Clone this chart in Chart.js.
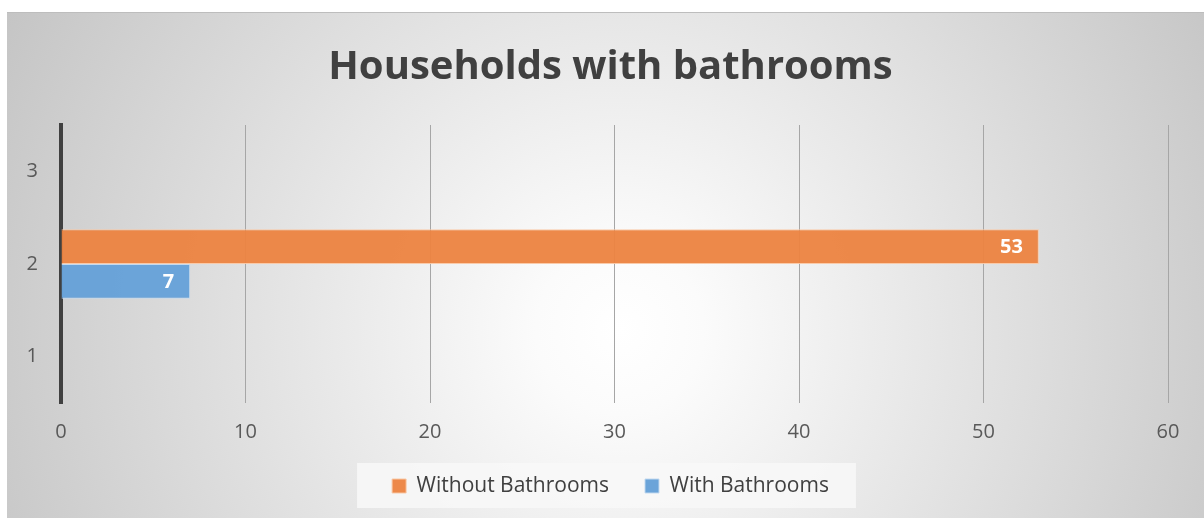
<!DOCTYPE html>
<html>
<head>
<meta charset="utf-8">
<script src="https://cdn.jsdelivr.net/npm/chart.js@4/dist/chart.umd.min.js"></script>
<style>
  html, body { margin: 0; padding: 0; background: #ffffff; }
  #wrap { width: 1204px; height: 518px; position: relative; }
</style>
</head>
<body>
<div id="wrap"><canvas id="c" width="1204" height="518"></canvas></div>
<script>
const categories = ['1', '2', '3'];
const withoutBathrooms = [null, 53, null];
const withBathrooms = [null, 7, null];
const seriesNames = ['Without Bathrooms', 'With Bathrooms'];
const xTicks = [0, 10, 20, 30, 40, 50, 60];
const chartTitle = 'Households with bathrooms';

const FONT = "'Open Sans', 'Noto Sans', sans-serif";

const bgPlugin = {
  id: 'bg',
  beforeDraw(chart) {
    const ctx = chart.ctx;
    const x0 = 7, y0 = 12, w = chart.width - 7, h = chart.height - 12;
    ctx.save();
    const g = ctx.createRadialGradient(620, 330, 0, 620, 330, 700);
    g.addColorStop(0, '#ffffff');
    g.addColorStop(0.12, '#fbfbfb');
    g.addColorStop(1, '#c4c4c4');
    ctx.fillStyle = g;
    ctx.fillRect(x0, y0, w, h);
    ctx.fillStyle = '#bdbdbd';
    ctx.fillRect(x0, y0, w, 1);
    const lg = chart.legend;
    const boxes = lg && lg.legendHitBoxes;
    if (boxes && boxes.length) {
      const l = boxes[0].left - 35;
      const last = boxes[boxes.length - 1];
      const r = last.left + last.width + 27;
      ctx.fillStyle = 'rgba(248,248,248,0.85)';
      ctx.fillRect(l, 463, r - l, 45);
    }
    ctx.restore();
  }
};

const labelPlugin = {
  id: 'vlabels',
  afterDatasetsDraw(chart) {
    const ctx = chart.ctx;
    ctx.save();
    ctx.font = "bold 20px " + FONT;
    ctx.fillStyle = '#ffffff';
    ctx.textAlign = 'right';
    ctx.textBaseline = 'middle';
    chart.data.datasets.forEach((ds, di) => {
      const meta = chart.getDatasetMeta(di);
      meta.data.forEach((bar, i) => {
        const v = ds.data[i];
        if (v === null || v === undefined) return;
        ctx.fillText(String(v), bar.x - 16, bar.y + 1);
      });
    });
    ctx.restore();
  }
};

new Chart(document.getElementById('c'), {
  type: 'bar',
  data: {
    labels: categories,
    datasets: [
      { label: seriesNames[0], data: withoutBathrooms, xAxisID: 'x', yAxisID: 'y', backgroundColor: 'rgba(236,131,64,0.95)', borderColor: 'rgba(250,200,165,0.95)', borderWidth: 1 },
      { label: seriesNames[1], data: withBathrooms, xAxisID: 'x', yAxisID: 'y', backgroundColor: 'rgba(104,162,216,0.98)', borderColor: 'rgba(195,218,240,0.95)', borderWidth: 1 }
    ]
  },
  plugins: [bgPlugin, labelPlugin],
  options: {
    indexAxis: 'y',
    responsive: false,
    animation: false,
    layout: { padding: { left: 17, right: 0, top: 12, bottom: 11.5 } },
    datasets: { bar: { categoryPercentage: 0.75, barPercentage: 1.0 } },
    scales: {
      x: {
        axis: 'x',
        position: 'bottom',
        min: 0, max: 60,
        afterBuildTicks(scale) { scale.ticks = xTicks.map(v => ({ value: v })); },
        afterFit(scale) { scale.height = 36.5; },
        grid: { color: '#a6a6a6', lineWidth: 1, drawTicks: false },
        border: { display: false },
        ticks: { color: '#595959', font: { family: FONT, size: 20 }, padding: 17 }
      },
      y: {
        axis: 'y',
        type: 'category',
        position: 'left',
        reverse: true,
        afterFit(scale) { scale.width = 44; },
        grid: { display: false, drawTicks: false },
        border: { display: true, color: '#404040', width: 4 },
        ticks: { color: '#595959', font: { family: FONT, size: 20 }, padding: 23 }
      },
      yr: {
        axis: 'y',
        type: 'category',
        position: 'right',
        afterFit(scale) { scale.width = 36; },
        grid: { display: false, drawTicks: false },
        border: { display: false },
        ticks: { display: false }
      }
    },
    plugins: {
      title: {
        display: true,
        text: chartTitle,
        color: '#404040',
        font: { family: FONT, size: 40, weight: 'bold' },
        padding: { top: 32, bottom: 33 }
      },
      legend: {
        position: 'bottom',
        labels: {
          color: '#404040',
          font: { family: FONT, size: 21 },
          boxWidth: 14, boxHeight: 14,
          padding: 36
        }
      },
      tooltip: { enabled: false }
    }
  }
});
</script>
</body>
</html>
